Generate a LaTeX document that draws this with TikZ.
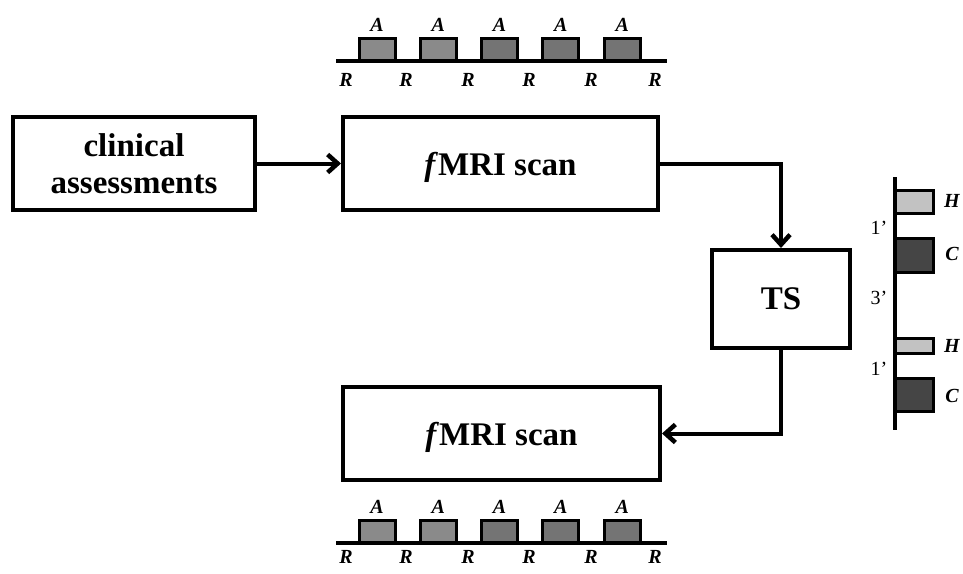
\documentclass[tikz,border=0pt]{standalone}
\usepackage{fontspec}
\setmainfont{Liberation Serif}
\usetikzlibrary{arrows.meta}
\definecolor{blockA}{HTML}{8A8A8A}
\definecolor{blockB}{HTML}{747474}
\definecolor{hotbar}{HTML}{C2C2C2}
\definecolor{coldbar}{HTML}{454545}
\tikzset{
  stage/.style={draw, line width=4pt, inner sep=0pt, align=center,
    font=\fontsize{33}{37}\selectfont\bfseries},
  flow/.style={line width=4pt, -{Straight Barb[length=10pt,width=18pt,line width=4.5pt]}},
  axisline/.style={line width=4pt},
  bar/.style={draw, line width=3pt},
  tlabel/.style={font=\fontsize{20}{22}\selectfont\bfseries\itshape, inner sep=0pt},
  dlabel/.style={font=\fontsize{20}{22}\selectfont, inner sep=0pt}
}
\begin{document}
\begin{tikzpicture}[x=1pt,y=-1pt]
\useasboundingbox (0,0) rectangle (963,573);

% main stages
\node[stage, minimum width=242pt, minimum height=93pt] (clin) at (134,163.5) {clinical\\assessments};
\node[stage, text depth=0pt, minimum width=315pt, minimum height=93pt] (scanA) at (500.5,163.5) {\textit{f}MRI scan};
\node[stage, text depth=0pt, minimum width=138pt, minimum height=98pt] (ts) at (781,299) {TS};
\node[stage, text depth=0pt, minimum width=317pt, minimum height=93pt] (scanB) at (501.5,433.5) {\textit{f}MRI scan};

% connectors
\draw[flow] (clin.east) -- (scanA.west);
\draw[flow] (scanA.east) -| (ts.north);
\draw[flow] (ts.south) |- (scanB.east);

% block design timelines above and below the scans
\foreach \ly/\la/\lr in {61/25/80, 543/507/557}{
  \foreach \i in {0,...,4}{
    \pgfmathsetmacro{\bx}{359+61.3*\i}
    \ifnum\i<2 \def\bc{blockA}\else\def\bc{blockB}\fi
    \draw[bar, fill=\bc] (\bx,\ly) rectangle ++(36,-23);
    \node[tlabel] at (\bx+18,\la) {A};
  }
  \draw[axisline] (336,\ly) -- (667,\ly);
  \foreach \rx in {346,406,468,529,591,655}
    \node[tlabel] at (\rx,\lr) {R};
}

% hot/cold stimulation timeline
\draw[bar, fill=hotbar] (895,190) rectangle (933,213);
\draw[bar, fill=coldbar] (895,238) rectangle (933,272);
\draw[bar, fill=hotbar] (895,338) rectangle (933,353);
\draw[bar, fill=coldbar] (895,378) rectangle (933,411);
\draw[axisline] (895,177) -- (895,430);
\node[tlabel] (h1) at (952,201) {H};
\node[tlabel] (c1) at (952,254) {C};
\node[tlabel] (h2) at (952,346) {H};
\node[tlabel] (c2) at (952,396) {C};
\node[dlabel] (d1) at (879,228) {1’};
\node[dlabel] (d2) at (879,298) {3’};
\node[dlabel] (d3) at (879,369) {1’};
\end{tikzpicture}
\end{document}
